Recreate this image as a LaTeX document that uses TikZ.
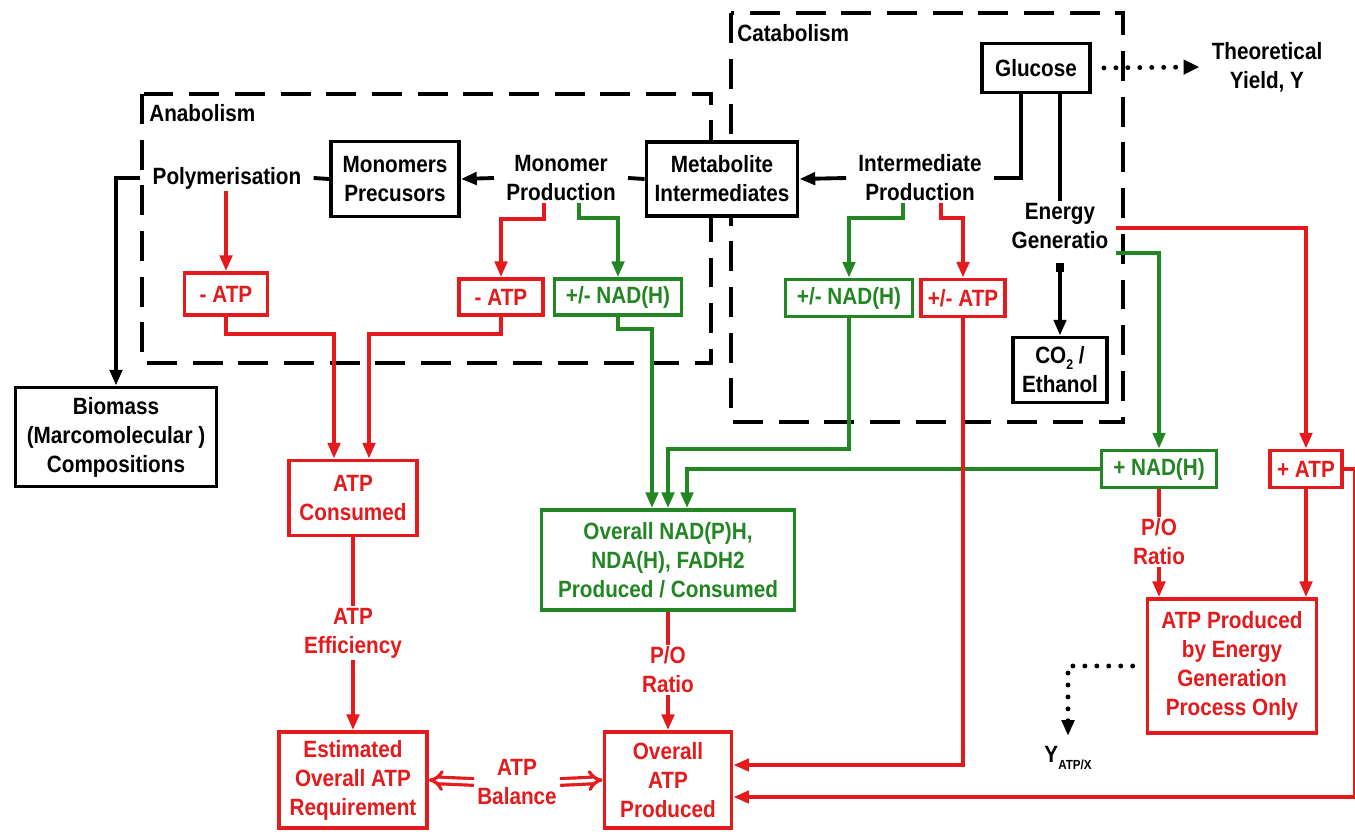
\documentclass[tikz,border=0pt]{standalone}
\usepackage{fontspec}
\setmainfont{Liberation Sans}[FakeStretch=0.88]
\usetikzlibrary{arrows.meta}
\definecolor{rc}{RGB}{228,26,28}
\definecolor{gc}{RGB}{34,134,34}
\newcommand{\upx}{0.02cm}
\begin{document}
\begin{tikzpicture}[x=0.02cm,y=-0.02cm,
 font=\fontsize{13.4}{16.5}\selectfont\bfseries,
 sz/.style 2 args={minimum width=#1*\upx, minimum height=#2*\upx},
 bbox/.style={draw=black, fill=white, line width=2.2pt, align=center, inner sep=0pt},
 rbox/.style={draw=rc, fill=white, text=rc, line width=2.1pt, align=center, inner sep=0pt},
 gbox/.style={draw=gc, fill=white, text=gc, line width=2.1pt, align=center, inner sep=0pt},
 lbl/.style={align=center, inner xsep=12*\upx, inner ysep=1pt},
 arr/.style={-{Triangle[length=9pt,width=7pt]}},
 lnblack/.style={draw=black, line width=2.2pt},
 lnred/.style={draw=rc, line width=2.2pt},
 lngreen/.style={draw=gc, line width=2.2pt},
 dashbox/.style={draw=black, line width=2.7pt, dash pattern=on 17pt off 9pt},
 dotline/.style={draw=black, line width=2.8pt, dash pattern=on 0pt off 6.8pt, line cap=round}
]
\fill[white] (0,0) rectangle (1355,834);
\useasboundingbox (0,0) rectangle (1355,834);

% regions
\draw[dashbox] (142,94) rectangle (711,363);
\draw[dashbox] (731,13) rectangle (1123,422);
\node[anchor=west, inner sep=0pt] (catlbl) at (737,33) {Catabolism};
\node[anchor=west, inner sep=0pt] (anlbl) at (149,113) {Anabolism};

% black nodes
\node[bbox, sz={108}{49}] (glucose) at (1036,68) {Glucose};
\node[lbl] (theo) at (1267,67) {Theoretical\\Yield, Y};
\node[lbl] (interprod) at (920,178) {Intermediate\\Production};
\node[bbox, sz={151}{74}] (metab) at (722,179) {Metabolite\\Intermediates};
\node[lbl] (monoprod) at (561,178) {Monomer\\Production};
\node[bbox, sz={128}{75}] (monomers) at (395,179) {Monomers\\Precusors};
\node[lbl] (polym) at (227,178) {Polymerisation};
\node[bbox, sz={201}{99}] (biomass) at (116,437) {Biomass\\(Marcomolecular )\\Compositions};
\node[lbl] (energy) at (1060,226) {Energy\\Generatio};
\node[bbox, sz={94}{65}] (co2) at (1060,370) {CO\raisebox{-0.45ex}{\fontsize{8}{8}\selectfont 2} /\\Ethanol};

% red / green nodes
\node[rbox, sz={83}{42}] (matp1) at (226,294) {- ATP};
\node[rbox, sz={84}{36}] (matp2) at (501,297) {- ATP};
\node[gbox, sz={127}{36}] (nad1) at (618,297) {+/- NAD(H)};
\node[gbox, sz={127}{37}] (nad2) at (849,298) {+/- NAD(H)};
\node[rbox, sz={84}{37}] (pmatp) at (963,298) {+/- ATP};
\node[rbox, sz={128}{75}] (atpcons) at (353,498) {ATP\\Consumed};
\node[lbl, text=rc] (atpeff) at (353,633) {ATP\\Efficiency};
\node[rbox, sz={148}{96}] (estim) at (353,780) {Estimated\\Overall ATP\\Requirement};
\node[lbl, text=rc, inner xsep=3*\upx] (atpbal) at (517,782) {ATP\\Balance};
\node[rbox, sz={127}{96}] (overatp) at (668,780) {Overall\\ATP\\Produced};
\node[gbox, sz={253}{100}] (overnad) at (668,560) {Overall NAD(P)H,\\NDA(H), FADH2\\Produced / Consumed};
\node[lbl, text=rc] (po1) at (668,670) {P/O\\Ratio};
\node[gbox, sz={115}{37}] (pnad) at (1159,469) {+ NAD(H)};
\node[rbox, sz={72}{37}] (patp) at (1306,469) {+ ATP};
\node[lbl, text=rc] (po2) at (1159,542) {P/O\\Ratio};
\node[rbox, sz={169}{134}] (atpprod) at (1232,666) {ATP Produced\\by Energy\\Generation\\Process Only};
\node[inner sep=1pt] (yatp) at (1068,758) {Y\raisebox{-0.6ex}{\fontsize{7.5}{8}\selectfont ATP/X}};

% black connectors
\draw[lnblack] ([xshift=-15*\upx]glucose.south) |- (interprod.east);
\draw[lnblack] (energy.north |- glucose.south) -- (energy.north);
\draw[lnblack, arr] (interprod.west) -- (metab.east);
\draw[lnblack] (metab.west) -- (monoprod.east);
\draw[lnblack, arr] (monoprod.west) -- (monomers.east);
\draw[lnblack] (monomers.west) -- (polym.east);
\draw[lnblack, arr] (polym.west) -| (biomass.north);
\draw[dotline, -{Triangle[length=9pt,width=8pt]}, shorten <=12*\upx] (glucose.east) -- (theo.west);
\draw[lnblack, {Square[length=5pt,width=5pt]}-{Triangle[length=9pt,width=7pt]}] ([yshift=-12*\upx]energy.south) -- (co2.north);

% red / green connectors
\draw[lnred, arr] (polym.south -| matp1.north) -- (matp1.north);
\draw[lnred, arr] ([xshift=-17*\upx]monoprod.south) -- ++(0,16) -| (matp2.north);
\draw[lngreen, arr] ([xshift=18*\upx]monoprod.south) -- ++(0,15) -| (nad1.north);
\draw[lngreen, arr] ([xshift=-17*\upx]interprod.south) -- ++(0,15) -| (nad2.north);
\draw[lnred, arr] ([xshift=21*\upx]interprod.south) -- ++(0,15) -| (pmatp.north);
\draw[lnred, arr] (matp1.south) -- ++(0,17) -| ([xshift=-19*\upx]atpcons.north);
\draw[lnred, arr] (matp2.south) -- ++(0,17) -| ([xshift=16*\upx]atpcons.north);
\draw[lngreen, arr] (nad1.south) -- ++(0,12) -| ([xshift=-16*\upx]overnad.north);
\draw[lngreen, arr] (nad2.south) -- ++(0,131) -| (overnad.north);
\draw[lngreen, arr] (pnad.west) -| ([xshift=19*\upx]overnad.north);
\draw[lnred] (overnad.south) -- (po1.north);
\draw[lnred, arr] (po1.south) -- (overatp.north);
\draw[lnred] (atpcons.south) -- (atpeff.north);
\draw[lnred, arr] (atpeff.south) -- (estim.north);
\draw[lnred, arr] (pmatp.south) |- ([yshift=15*\upx]overatp.east);
\draw[lnred, arr] (patp.east) -- ++(11,0) |- ([yshift=-17*\upx]overatp.east);
\draw[lnred, arr] ([xshift=-5*\upx,yshift=-2*\upx]energy.east) -| (patp.north);
\draw[lngreen, arr] ([xshift=-5*\upx,yshift=-27*\upx]energy.east) -| (pnad.north);
\draw[lnred] (pnad.south) -- (pnad.south |- po2.north);
\draw[lnred, arr] (po2.south) -- (po2.south |- atpprod.north);
\draw[lnred, arr] (patp.south) -- (patp.south |- atpprod.north);
\draw[dotline, -{Triangle[length=9pt,width=7pt]}, shorten <=13*\upx, shorten >=8*\upx] (atpprod.west) -| (yatp.north);
\draw[draw=rc, line width=1.8pt, double=white, double distance=2pt, -{Implies}] (atpbal.west) -- (estim.east);
\draw[draw=rc, line width=1.8pt, double=white, double distance=2pt, -{Implies}] (atpbal.east) -- (overatp.west);
\end{tikzpicture}
\end{document}
